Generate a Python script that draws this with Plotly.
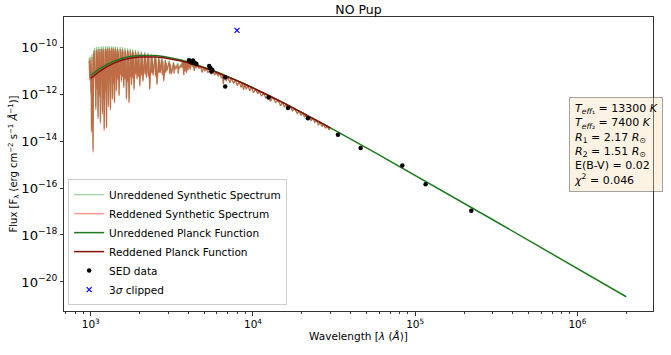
import plotly.graph_objects as go

chart_title = "NO Pup"

# Synthetic spectrum (wavelength in Angstrom, log10 of flux)
spec_wave = [978, 985, 992, 1003, 1006, 1010, 1018, 1022, 1026, 1033, 1042, 1050, 1058, 1062, 1066,
             1074, 1088, 1093, 1098, 1109, 1122, 1128, 1135, 1147, 1160, 1165, 1170, 1181, 1194,
             1198, 1203, 1210, 1220, 1226, 1232, 1237, 1242, 1250, 1264, 1270, 1275, 1286, 1302,
             1307, 1312, 1323, 1340, 1345, 1350, 1361, 1378, 1384, 1390, 1400, 1418, 1424, 1430,
             1440, 1462, 1470, 1478, 1494, 1518, 1525, 1532, 1546, 1568, 1575, 1582, 1597, 1626,
             1634, 1642, 1660, 1688, 1696, 1705, 1722, 1750, 1758, 1766, 1782, 1812, 1821, 1830,
             1848, 1885, 1895, 1905, 1929, 1962, 1972, 1982, 2004, 2048, 2060, 2072, 2100, 2148,
             2162, 2175, 2204, 2252, 2266, 2280, 2309, 2362, 2376, 2390, 2420, 2488, 2506, 2525,
             2561, 2622, 2638, 2655, 2688, 2748, 2765, 2782, 2817, 2882, 2898, 2915, 2952, 3048,
             3071, 3095, 3143, 3238, 3264, 3290, 3340, 3438, 3464, 3490, 3535, 3600, 3646,
             3660, 3700, 3722, 3741, 3770, 3798, 3835, 3889,
             3930, 3970, 4030, 4102, 4180, 4250, 4300, 4340, 4420, 4471, 4560, 4650, 4760, 4861,
             4960, 5050, 5170, 5270, 5400, 5530, 5650, 5800, 5950, 6100, 6250, 6400, 6500, 6563,
             6650, 6860, 7000, 7200, 7350, 7600, 7800, 8000, 8200, 8450, 8600, 8750, 8900, 9100,
             9300, 9550, 9800, 10050, 10400, 10700, 10900, 11300, 11600, 12000, 12400, 12818,
             13200, 13800, 14300, 14800, 15200, 15600, 16000, 16500, 17000, 17500, 18000, 18750,
             19200, 19800, 20300, 20800, 21200, 21660, 22200, 22800, 23400, 24000, 24700, 25300,
             26000, 26600, 27300, 28000, 28700, 29400, 30000]
spec_log_flux_unred = [-10.45, -11.30, -10.40, -11.90, -10.70, -13.50, -10.30, -11.60, -10.50, -14.35,
                       -10.12, -11.20, -10.02, -11.90, -10.15, -12.55, -9.99, -11.70, -10.10, -12.95,
                       -9.97, -12.00, -10.09, -13.15, -9.97, -11.60, -10.09, -12.75, -9.96, -12.10,
                       -10.08, -13.45, -11.20, -10.30, -9.96, -11.80, -10.08, -13.35, -9.96, -11.60,
                       -10.08, -12.45, -9.96, -11.40, -10.08, -12.60, -9.97, -11.30, -10.09, -12.15,
                       -9.97, -11.50, -10.09, -12.30, -9.97, -11.20, -10.09, -11.80, -9.98, -11.30,
                       -10.10, -12.00, -9.99, -11.10, -10.11, -11.40, -10.00, -11.20, -10.12, -11.65,
                       -10.02, -11.30, -10.14, -12.15, -10.04, -11.40, -10.16, -12.30, -10.06, -11.20,
                       -10.18, -11.55, -10.08, -11.25, -10.20, -11.75, -10.11, -11.10, -10.23, -11.30,
                       -10.14, -11.20, -10.26, -11.60, -10.17, -11.15, -10.29, -11.40, -10.20, -11.10,
                       -10.32, -11.25, -10.24, -11.20, -10.36, -11.75, -10.29, -11.05, -10.41, -11.15,
                       -10.34, -11.20, -10.46, -11.55, -10.40, -11.05, -10.52, -11.05, -10.45, -11.15,
                       -10.57, -11.40, -10.52, -11.05, -10.64, -10.95, -10.57, -11.10, -10.69, -11.10,
                       -10.62, -11.08, -10.74, -10.90, -10.67, -11.10, -10.79, -10.85, -10.72, -10.84,
                       -10.56, -10.58, -10.85, -11.15, -10.58, -11.00, -10.60, -11.05,
                       -10.60, -10.95, -10.61, -10.92, -10.64, -10.80, -10.68, -10.98,
                       -10.71, -10.86, -10.75, -10.88, -10.80, -11.05, -10.85, -10.98, -10.91, -11.06,
                       -10.96, -11.12, -11.00, -11.15, -11.07, -11.20, -11.12, -11.30, -11.17, -11.55,
                       -11.20, -11.42, -11.25, -11.50, -11.30, -11.52, -11.39, -11.62, -11.45, -11.70,
                       -11.51, -11.80, -11.56, -11.78, -11.62, -11.85, -11.69, -11.92, -11.78, -11.98,
                       -11.85, -12.08, -11.94, -12.16, -12.03, -12.30, -12.12, -12.35, -12.25, -12.48,
                       -12.34, -12.55, -12.42, -12.62, -12.52, -12.70, -12.61, -12.82, -12.70, -12.90,
                       -12.79, -12.98, -12.87, -13.08, -12.94, -13.12, -13.02, -13.20, -13.11, -13.30,
                       -13.20, -13.38, -13.27, -13.45, -13.35, -13.52, -13.43]
spec_log_flux_red = [-10.57, -11.42, -10.52, -12.02, -10.82, -13.62, -10.42, -11.72, -10.62, -14.47,
                     -10.24, -11.32, -10.14, -12.02, -10.27, -12.67, -10.11, -11.82, -10.22, -13.05,
                     -10.07, -12.10, -10.19, -13.25, -10.07, -11.70, -10.19, -12.85, -10.06, -12.20,
                     -10.18, -13.55, -11.30, -10.40, -10.06, -11.90, -10.18, -13.45, -10.06, -11.70,
                     -10.18, -12.55, -10.04, -11.48, -10.16, -12.68, -10.05, -11.38, -10.17, -12.23,
                     -10.05, -11.58, -10.17, -12.38, -10.05, -11.28, -10.17, -11.88, -10.06, -11.38,
                     -10.18, -12.08, -10.07, -11.18, -10.19, -11.48, -10.08, -11.28, -10.20, -11.73,
                     -10.10, -11.38, -10.22, -12.23, -10.12, -11.48, -10.23, -12.37, -10.13, -11.27,
                     -10.25, -11.62, -10.15, -11.32, -10.27, -11.82, -10.18, -11.17, -10.30, -11.37,
                     -10.21, -11.27, -10.33, -11.66, -10.23, -11.21, -10.35, -11.46, -10.26, -11.16,
                     -10.38, -11.31, -10.30, -11.26, -10.42, -11.81, -10.35, -11.11, -10.47, -11.21,
                     -10.40, -11.25, -10.51, -11.60, -10.45, -11.10, -10.57, -11.10, -10.50, -11.20,
                     -10.62, -11.45, -10.57, -11.10, -10.69, -11.00, -10.62, -11.15, -10.74, -11.15,
                     -10.67, -11.13, -10.79, -10.95, -10.72, -11.15, -10.84, -10.89, -10.76, -10.88,
                     -10.60, -10.62, -10.89, -11.19, -10.62, -11.04, -10.64, -11.09,
                     -10.64, -10.99, -10.64, -10.95, -10.67, -10.83, -10.71, -11.01,
                     -10.74, -10.89, -10.78, -10.91, -10.83, -11.08, -10.88, -11.01, -10.94, -11.09,
                     -10.99, -11.15, -11.03, -11.18, -11.10, -11.22, -11.14, -11.32, -11.19, -11.57,
                     -11.22, -11.44, -11.27, -11.52, -11.32, -11.54, -11.41, -11.64, -11.47, -11.72,
                     -11.53, -11.82, -11.58, -11.79, -11.63, -11.86, -11.70, -11.93, -11.79, -11.99,
                     -11.86, -12.09, -11.95, -12.17, -12.04, -12.31, -12.13, -12.36, -12.26, -12.49,
                     -12.35, -12.56, -12.43, -12.63, -12.53, -12.71, -12.62, -12.83, -12.71, -12.91,
                     -12.79, -12.98, -12.87, -13.08, -12.94, -13.12, -13.02, -13.20, -13.11, -13.30,
                     -13.20, -13.38, -13.27, -13.45, -13.35, -13.52, -13.43]

# Planck functions (erg cm^-2 s^-1 A^-1)
planck_wave = [1000, 1122, 1259, 1413, 1585, 1778, 1995, 2239, 2512, 2818, 3162, 3548, 3981,
               4467, 5012, 5623, 6310, 7079, 7943, 8913, 10000, 12589, 15849, 19953, 25119,
               31623, 56234, 100000, 177828, 316228, 562341, 1000000, 2000000]
planck_flux_unred = [6.38e-12, 1.164e-11, 1.866e-11, 2.673e-11, 3.467e-11, 4.111e-11, 4.498e-11,
                     4.592e-11, 4.416e-11, 4.027e-11, 3.508e-11, 2.931e-11, 2.371e-11, 1.858e-11,
                     1.419e-11, 1.057e-11, 7.73e-12, 5.56e-12, 3.93e-12, 2.74e-12, 1.888e-12,
                     8.71e-13, 3.89e-13, 1.694e-13, 7.23e-14, 3.04e-14, 3.33e-15, 3.51e-16,
                     3.61e-17, 3.66e-18, 3.69e-19, 3.72e-20, 2.33e-21]
planck_red_wave = [1000, 1122, 1259, 1413, 1585, 1778, 1995, 2239, 2512, 2818, 3162, 3548, 3981,
                   4467, 5012, 5623, 6310, 7079, 7943, 8913, 10000, 12589, 15849, 19953, 25119, 30000]
planck_flux_red = [4.73e-12, 9.04e-12, 1.500e-11, 2.208e-11, 2.917e-11, 3.516e-11, 3.882e-11,
                   3.945e-11, 3.864e-11, 3.573e-11, 3.141e-11, 2.655e-11, 2.173e-11, 1.722e-11,
                   1.327e-11, 9.98e-12, 7.36e-12, 5.33e-12, 3.78e-12, 2.66e-12, 1.841e-12,
                   8.55e-13, 3.84e-13, 1.679e-13, 7.18e-14, 3.69e-14]

# Photometry
sed_wave = [4034, 4174, 4269, 4404, 4480, 5372, 5464, 5606, 5543, 6742, 6742, 12497, 16434,
            21824, 33394, 46087, 83263, 115900, 221700]
sed_flux = [2.79e-11, 2.25e-11, 2.74e-11, 2.08e-11, 1.92e-11, 1.58e-11, 1.30e-11, 1.10e-11,
            9.29e-12, 5.25e-12, 2.13e-12, 7.21e-13, 2.55e-13, 9.55e-14, 1.85e-14, 5.15e-15,
            9.06e-16, 1.46e-16, 1.09e-17]
clip_wave = [7969]
clip_flux = [5.21e-10]

x_tick_vals = [1e3, 1e4, 1e5, 1e6]
x_tick_text = ["10<sup>3</sup>", "10<sup>4</sup>", "10<sup>5</sup>", "10<sup>6</sup>"]

fit_lines = [
    "<i>T</i><sub><i>eff</i>\u2081</sub> = 13300 <i>K</i>",
    "<i>T</i><sub><i>eff</i>\u2082</sub> = 7400 <i>K</i>",
    "<i>R</i><sub>1</sub> = 2.17 <i>R</i><sub>\u2299</sub>",
    "<i>R</i><sub>2</sub> = 1.51 <i>R</i><sub>\u2299</sub>",
    "E(B-V) = 0.02",
    "<i>\u03c7</i><sup>2</sup> = 0.046",
]

legend_names = ["Unreddened Synthetic Spectrum", "Reddened Synthetic Spectrum",
                "Unreddened Planck Function", "Reddened Planck Function",
                "SED data", "3<i>\u03c3</i> clipped"]

FONT = "DejaVu Sans"

fig = go.Figure()
fig.add_trace(go.Scatter(x=spec_wave, y=[10 ** v for v in spec_log_flux_unred], mode="lines",
                         line=dict(color="rgba(0,128,0,0.45)", width=1.2), showlegend=False,
                         hoverinfo="skip"))
fig.add_trace(go.Scatter(x=spec_wave, y=[10 ** v for v in spec_log_flux_red], mode="lines",
                         line=dict(color="rgba(215,60,30,0.65)", width=1.2), showlegend=False,
                         hoverinfo="skip"))
# legend-only entries for the spectra
fig.add_trace(go.Scatter(x=[None], y=[None], mode="lines", name=legend_names[0],
                         line=dict(color="rgba(0,128,0,0.35)", width=1.5)))
fig.add_trace(go.Scatter(x=[None], y=[None], mode="lines", name=legend_names[1],
                         line=dict(color="rgba(255,0,0,0.4)", width=1.5)))
fig.add_trace(go.Scatter(x=planck_wave, y=planck_flux_unred, mode="lines", name=legend_names[2],
                         line=dict(color="rgb(30,122,30)", width=1.5)))
fig.add_trace(go.Scatter(x=planck_red_wave, y=planck_flux_red, mode="lines", name=legend_names[3],
                         line=dict(color="rgb(135,15,15)", width=1.5)))
fig.add_trace(go.Scatter(x=sed_wave, y=sed_flux, mode="markers", name=legend_names[4],
                         marker=dict(color="black", size=4.5)))
fig.add_trace(go.Scatter(x=clip_wave, y=clip_flux, mode="markers", name=legend_names[5],
                         marker=dict(color="blue", size=5, symbol="x-thin",
                                     line=dict(color="blue", width=1.2))))

minor_x = [m * 10 ** e for e in range(2, 7) for m in range(2, 10)]

fig.update_layout(
    width=671, height=355,
    margin=dict(l=64, r=18, t=17, b=44),
    paper_bgcolor="white", plot_bgcolor="white",
    font=dict(family=FONT, size=10.5, color="black"),
    title=dict(text=chart_title, x=0.5, xref="paper", xanchor="center",
               y=1 - 10 / 355, yref="container", yanchor="middle",
               font=dict(family=FONT, size=12.5, color="black")),
    showlegend=True,
    legend=dict(x=0.007, y=0.02, xanchor="left", yanchor="bottom",
                bgcolor="rgba(255,255,255,0.85)", bordercolor="#cccccc", borderwidth=1,
                font=dict(family=FONT, size=10.5, color="black"), tracegroupgap=0),
    xaxis=dict(type="log", range=[2.835, 6.466], tickmode="array", tickvals=x_tick_vals,
               ticktext=x_tick_text,
               showgrid=False, zeroline=False, showline=True, mirror=True,
               linecolor="#333333", linewidth=1, ticks="outside", ticklen=3.5,
               tickcolor="#333333", tickfont=dict(family=FONT, size=10.5),
               minor=dict(tickmode="array", tickvals=minor_x, ticks="outside", ticklen=2,
                          tickcolor="#333333", showgrid=False),
               title=dict(text="Wavelength [<i>\u03bb</i> (<i>\u00c5</i>)]",
                          font=dict(family=FONT, size=10.5), standoff=3)),
    yaxis=dict(type="log", range=[-21.24, -8.71], dtick=2, tick0=0, exponentformat="power",
               showgrid=False, zeroline=False, showline=True, mirror=True,
               linecolor="#333333", linewidth=1, ticks="outside", ticklen=3.5,
               tickcolor="#333333", tickfont=dict(family=FONT, size=10.5),
               title=dict(text="Flux [F<sub>\u03bb</sub> (erg cm<sup>\u22122</sup> s<sup>\u22121</sup> <i>\u00c5</i><sup>\u22121</sup>)]",
                          font=dict(family=FONT, size=10), standoff=1)),
)

fig.add_annotation(
    text="<br>".join(fit_lines), xref="paper", yref="paper",
    x=1.017, y=0.728, xanchor="right", yanchor="top", align="left", showarrow=False,
    font=dict(family=FONT, size=11, color="black"),
    bgcolor="rgba(245,222,179,0.35)", bordercolor="rgba(0,0,0,0.35)", borderwidth=1, borderpad=4,
)

fig.write_html("out.html")
